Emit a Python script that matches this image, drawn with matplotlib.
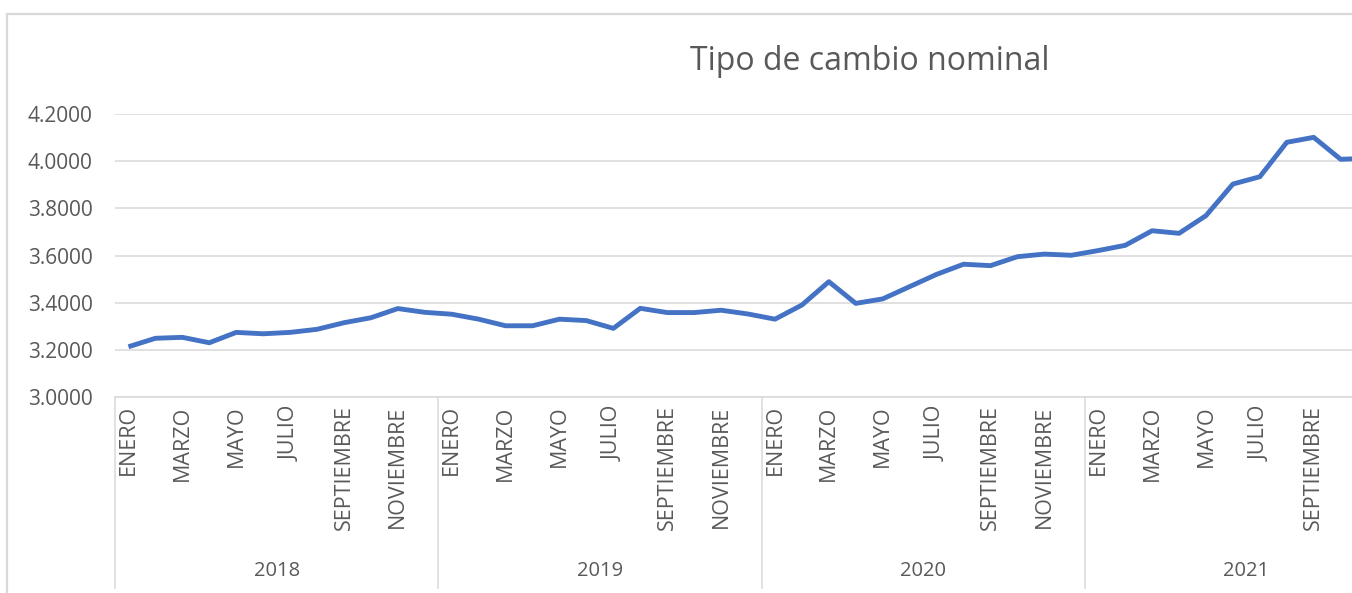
import matplotlib
matplotlib.use("Agg")
import matplotlib.pyplot as plt
from matplotlib.transforms import blended_transform_factory
from matplotlib.patches import Rectangle

plt.rcParams['font.family'] = ['Open Sans', 'DejaVu Sans']

years = ["2018", "2019", "2020", "2021"]
months = ["ENERO", "FEBRERO", "MARZO", "ABRIL", "MAYO", "JUNIO", "JULIO",
          "AGOSTO", "SEPTIEMBRE", "OCTUBRE", "NOVIEMBRE", "DICIEMBRE"]
values_2018 = [3.213, 3.249, 3.253, 3.230, 3.274, 3.268, 3.274, 3.287, 3.315, 3.336, 3.375, 3.359]
values_2019 = [3.351, 3.330, 3.302, 3.302, 3.330, 3.324, 3.291, 3.376, 3.358, 3.358, 3.368, 3.352]
values_2020 = [3.330, 3.390, 3.489, 3.397, 3.416, 3.468, 3.520, 3.563, 3.557, 3.595, 3.606, 3.601]
values_2021 = [3.621, 3.643, 3.705, 3.694, 3.769, 3.903, 3.934, 4.080, 4.101, 4.008, 4.012]
yticks = [3.0, 3.2, 3.4, 3.6, 3.8, 4.0, 4.2]
title = "Tipo de cambio nominal"

values = values_2018 + values_2019 + values_2020 + values_2021
ncat = 12 * len(years)
xs = list(range(len(values)))

W, H = 1352, 593
fig = plt.figure(figsize=(W / 100, H / 100), dpi=100)
fig.patch.set_facecolor('white')

# chart border (Excel chart area), extends beyond the crop
fig.patches.append(Rectangle((7 / W, -0.1), 1.2, (H - 14) / H + 0.1,
                             transform=fig.transFigure, fill=False,
                             edgecolor='#d9d9d9', linewidth=1.6))

left, right, top, bottom = 115, 1408, 114, 397
ax = fig.add_axes([left / W, (H - bottom) / H, (right - left) / W, (bottom - top) / H])
ax.set_xlim(-0.5, ncat - 0.5)
ax.set_ylim(3.0, 4.2)

grey_txt = '#595959'
grid_col = '#d9d9d9'

ax.set_yticks(yticks)
ax.set_yticklabels([f"{v:.4f}" for v in yticks], color=grey_txt, fontsize=15)
ax.yaxis.grid(True, color=grid_col, linewidth=1.1)
ax.set_axisbelow(True)
for s in ['left', 'right', 'top']:
    ax.spines[s].set_visible(False)
ax.spines['bottom'].set_color(grid_col)
ax.spines['bottom'].set_linewidth(1.1)
ax.tick_params(axis='y', length=0, pad=16)

# every other month is labelled; the ones past the crop edge are not visible
tick_pos = [i for i in range(len(values) - 1) if i % 2 == 0]
tick_lab = [months[i % 12] for i in tick_pos]
ax.set_xticks(tick_pos)
ax.set_xticklabels(tick_lab, rotation=90, va='top', ha='center',
                   color=grey_txt, fontsize=15.5)
ax.tick_params(axis='x', length=0, pad=6)

ax.plot(xs, values, color='#4472C4', linewidth=3.5, solid_joinstyle='round',
        solid_capstyle='butt', zorder=3)

trans = blended_transform_factory(ax.transData, ax.transAxes)
sep_depth = (588 - bottom) / (bottom - top)
for k in range(len(years) + 1):
    xb = k * 12 - 0.5
    ax.plot([xb, xb], [0, -sep_depth], transform=trans, color=grid_col,
            linewidth=1.1, clip_on=False)
year_y = -(571 - bottom) / (bottom - top)
for k, yr in enumerate(years):
    ax.text(k * 12 + 5.5, year_y, yr, transform=trans, ha='center', va='center',
            color=grey_txt, fontsize=14.5)

fig.text(870 / W, 1 - 61 / H, title, ha='center', va='center',
         color=grey_txt, fontsize=23)

fig.savefig("out.png", dpi=100)
